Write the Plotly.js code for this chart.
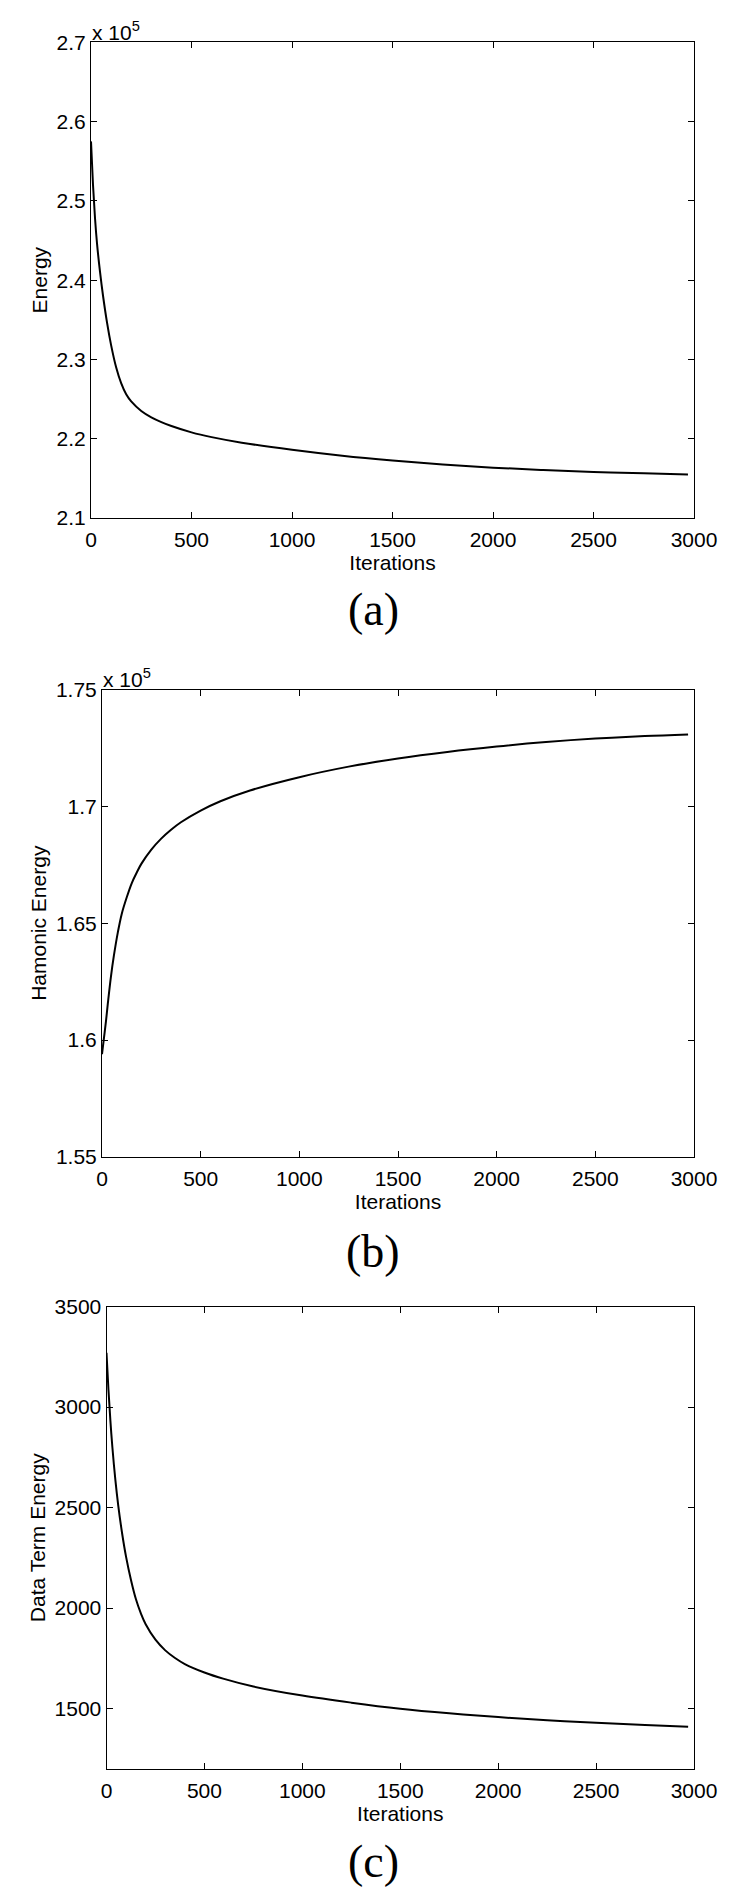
<!DOCTYPE html>
<html>
<head>
<meta charset="utf-8">
<script src="https://cdn.plot.ly/plotly-3.0.1.min.js"></script>
<style>
html,body{margin:0;padding:0;background:#fff;}
#chart{width:750px;height:1894px;}
</style>
</head>
<body>
<div id="chart"></div>
<script>
// Iterations sampled along each curve
const iterations = [0, 10, 20, 30, 45, 60, 80, 100, 125, 150, 175, 200, 250, 300, 350, 400, 500, 600, 750, 1000, 1250, 1500, 1750, 2000, 2250, 2500, 2750, 2970];

// (a) total energy
const energy = [257500, 252000, 247800, 244600, 241000, 238000, 234600, 231800, 229000, 227000, 225600, 224700, 223500, 222700, 222100, 221600, 220800, 220200, 219500, 218600, 217850, 217250, 216750, 216350, 216050, 215800, 215630, 215500];

// (b) harmonic energy
const harmonic = [159400, 160100, 160800, 161600, 162700, 163600, 164600, 165400, 166100, 166700, 167150, 167550, 168150, 168620, 169000, 169320, 169820, 170220, 170680, 171250, 171700, 172050, 172330, 172560, 172750, 172900, 173010, 173080];

// (c) data term energy
const dataTerm = [3270, 3085, 2930, 2800, 2640, 2510, 2370, 2255, 2140, 2045, 1975, 1920, 1843, 1790, 1752, 1722, 1680, 1648, 1610, 1565, 1530, 1500, 1477, 1458, 1442, 1430, 1419, 1410];

// tick labels
const xTicks = [0, 500, 1000, 1500, 2000, 2500, 3000];
const aTickVals = [210000, 220000, 230000, 240000, 250000, 260000, 270000];
const aTickText = ['2.1', '2.2', '2.3', '2.4', '2.5', '2.6', '2.7'];
const bTickVals = [155000, 160000, 165000, 170000, 175000];
const bTickText = ['1.55', '1.6', '1.65', '1.7', '1.75'];
const cTickVals = [1500, 2000, 2500, 3000, 3500];

const H = 1894, W = 750;
const FONT = 'Liberation Sans, Arial, sans-serif';
const FS = 21;
const py = v => 1 - v / H;
const px = v => v / W;

const lineStyle = {color: '#000', width: 2, shape: 'spline', smoothing: 1};

const traces = [
  {x: iterations, y: energy, xaxis: 'x', yaxis: 'y', mode: 'lines', line: lineStyle, hoverinfo: 'x+y'},
  {x: iterations, y: harmonic, xaxis: 'x2', yaxis: 'y2', mode: 'lines', line: lineStyle, hoverinfo: 'x+y'},
  {x: iterations, y: dataTerm, xaxis: 'x3', yaxis: 'y3', mode: 'lines', line: lineStyle, hoverinfo: 'x+y'}
];

function xAxis(domain, anchor) {
  return {
    domain: domain, anchor: anchor, range: [0, 3000], tickvals: xTicks,
    ticks: 'inside', ticklen: 6, tickcolor: '#000', tickwidth: 1,
    showline: true, linecolor: '#000', linewidth: 1, mirror: 'ticks',
    showgrid: false, zeroline: false,
    tickfont: {family: FONT, size: FS, color: '#000'},
    ticklabelstandoff: 3,
    title: {text: 'Iterations', font: {family: FONT, size: FS, color: '#000'}, standoff: 0}
  };
}
function yAxis(domain, anchor, range, vals, text, title) {
  const ax = {
    domain: domain, anchor: anchor, range: range, tickvals: vals,
    ticks: 'inside', ticklen: 6, tickcolor: '#000', tickwidth: 1,
    showline: true, linecolor: '#000', linewidth: 1, mirror: 'ticks',
    showgrid: false, zeroline: false,
    tickfont: {family: FONT, size: FS, color: '#000'},
    ticklabelstandoff: 0,
    title: {text: title, font: {family: FONT, size: FS, color: '#000'}, standoff: 3}
  };
  if (text) ax.ticktext = text;
  return ax;
}

const layout = {
  width: W, height: H,
  margin: {l: 0, r: 0, t: 0, b: 0},
  paper_bgcolor: '#fff', plot_bgcolor: '#fff',
  showlegend: false,
  xaxis: xAxis([px(91), px(694)], 'y'),
  yaxis: yAxis([py(518), py(42.3)], 'x', [210000, 270000], aTickVals, aTickText, 'Energy'),
  xaxis2: xAxis([px(102), px(694)], 'y2'),
  yaxis2: yAxis([py(1157), py(689.5)], 'x2', [155000, 175000], bTickVals, bTickText, 'Hamonic Energy'),
  xaxis3: xAxis([px(106.5), px(694)], 'y3'),
  yaxis3: yAxis([py(1769), py(1306.5)], 'x3', [1200, 3500], cTickVals, null, 'Data Term Energy'),
  annotations: [
    {xref: 'paper', yref: 'paper', x: px(90), y: py(31), xanchor: 'left', yanchor: 'middle', showarrow: false,
     text: 'x 10<sup>5</sup>', font: {family: FONT, size: FS, color: '#000'}},
    {xref: 'paper', yref: 'paper', x: px(101), y: py(678), xanchor: 'left', yanchor: 'middle', showarrow: false,
     text: 'x 10<sup>5</sup>', font: {family: FONT, size: FS, color: '#000'}},
    {xref: 'paper', yref: 'paper', x: px(373), y: py(610), xanchor: 'center', yanchor: 'middle', showarrow: false,
     text: '(a)', font: {family: 'Liberation Serif, serif', size: 46, color: '#000'}},
    {xref: 'paper', yref: 'paper', x: px(373), y: py(1251), xanchor: 'center', yanchor: 'middle', showarrow: false,
     text: '(b)', font: {family: 'Liberation Serif, serif', size: 46, color: '#000'}},
    {xref: 'paper', yref: 'paper', x: px(373), y: py(1861), xanchor: 'center', yanchor: 'middle', showarrow: false,
     text: '(c)', font: {family: 'Liberation Serif, serif', size: 46, color: '#000'}}
  ]
};

Plotly.newPlot('chart', traces, layout, {staticPlot: true, displayModeBar: false});
</script>
</body>
</html>
